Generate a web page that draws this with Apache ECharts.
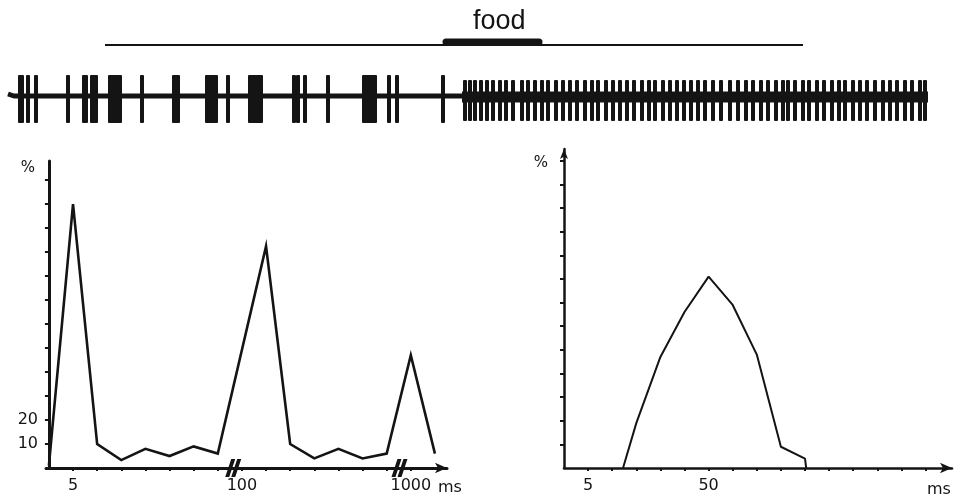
<!DOCTYPE html>
<html>
<head>
<meta charset="utf-8">
<script src="https://cdn.jsdelivr.net/npm/echarts@6/dist/echarts.min.js"></script>
<style>
html, body { margin: 0; padding: 0; background: #fff; }
#chart { width: 961px; height: 501px; }
</style>
</head>
<body>
<div id="chart"></div>
<script>
// 记录时间轴（与记录同一坐标）
const recordLine = [105, 803];
const foodPeriod = [443, 542];

// 左段：爆发放电 [开始, 结束] 与单个放电
const burstSpans = [[18, 24], [26, 30], [82, 88], [90, 98], [108, 122], [172, 180],
  [205, 218], [248, 263], [362, 377]];
const singleSpikes = [36, 68, 142, 228, 294, 298, 305, 328, 389, 397, 443];
// 右段：规则放电
const regularSpikes = [465, 470, 475, 481, 487, 493, 500, 506, 513, 522, 528, 535, 542,
  548, 556, 563, 570, 577, 585, 592, 598, 606, 613, 620, 627, 634, 642, 649, 655, 663,
  670, 677, 684, 691, 698, 705, 713, 721, 730, 738, 746, 753, 761, 768, 776, 783, 788,
  795, 803, 809, 817, 824, 832, 839, 845, 853, 860, 867, 875, 883, 890, 897, 905, 912,
  920, 925];
const burstAmp = [21, -27];
const regularAmp = [16, -25];
const baseLeft = [[8, 2], [14, 0], [120, 0], [300, 0], [462, 0]];
const baseRight = [[462, -1], [928, -1]];

// 左图：间隔直方图
const leftBin = [0, 1, 2, 3, 4, 5, 6, 7, 9, 10, 11, 12, 13, 14, 15, 16];
const leftPct = [1, 110, 10, 3.3, 8, 5, 9, 6, 92.5, 10, 4, 8, 4, 6, 47, 6];
const leftTicks = [1, 2, 3, 4, 5, 6, 7, 8, 9, 10, 11, 12, 13, 14, 15];
const leftLabelBins = [1, 8, 15];
const leftLabelText = ['5', '100', '1000'];
const leftBreaks = [7.64, 14.53];

// 右图：间隔直方图
const rightBin = [2.45, 3, 4, 5, 6, 7, 8, 9, 10, 10.05];
const rightPct = [0, 19, 47, 66, 81, 69, 48, 9, 4, 0];
const rightTicks = [1, 2, 3, 4, 5, 6, 7, 8, 9, 10, 11, 12, 13, 14, 15];
const rightLabelBins = [1, 6];
const rightLabelText = ['5', '50'];

const yTicksLeft = [10, 20, 30, 40, 50, 60, 70, 80, 90, 100, 110, 120];
const yLabelsLeft = [10, 20];
const yTicksRight = [10, 20, 30, 40, 50, 60, 70, 80, 90, 100, 110, 120, 130];

const ink = '#141414';
const font = 'DejaVu Sans';

const spikeData = [];
burstSpans.forEach(s => spikeData.push([s[0], s[1], burstAmp[0], burstAmp[1]]));
singleSpikes.forEach(t => spikeData.push([t, t, burstAmp[0], burstAmp[1]]));
regularSpikes.forEach(t => spikeData.push([t, t, regularAmp[0], regularAmp[1]]));

function pairs(xs, ys) {
  return xs.map((x, i) => [x, ys[i]]);
}

const chart = echarts.init(document.getElementById('chart'));

function hiddenAxis(idx, min, max) {
  return { gridIndex: idx, type: 'value', min: min, max: max, show: false };
}

chart.setOption({
  animation: false,
  title: {
    text: 'food',
    left: 468,
    top: 3,
    textStyle: { fontFamily: 'Liberation Sans', fontSize: 27, fontWeight: 'normal', color: ink }
  },
  grid: [
    { left: 0, right: 0, top: 30, height: 30 },
    { left: 0, right: 0, top: 66, height: 60 },
    { left: 46, width: 401, top: 161, bottom: 33 },
    { left: 564, width: 388, top: 149, bottom: 33 }
  ],
  xAxis: [
    hiddenAxis(0, 0, 961),
    hiddenAxis(1, 0, 961),
    {
      gridIndex: 2, type: 'value', min: -0.12, max: 16.5,
      name: 'ms', nameLocation: 'end', nameGap: -9,
      nameTextStyle: { fontFamily: font, fontSize: 16, color: ink, verticalAlign: 'top', padding: [12, 0, 0, 0] },
      axisLine: { lineStyle: { color: ink, width: 3 }, symbol: ['none', 'arrow'], symbolSize: [8, 12] },
      axisTick: { show: true, inside: false, length: 3, customValues: leftTicks, lineStyle: { color: ink, width: 2 } },
      axisLabel: {
        customValues: leftLabelBins, margin: 10, fontFamily: font, fontSize: 16, color: ink,
        formatter: v => leftLabelText[leftLabelBins.indexOf(v)]
      },
      splitLine: { show: false }
    },
    {
      gridIndex: 3, type: 'value', min: 0, max: 16.1,
      name: 'ms', nameLocation: 'end', nameGap: -25,
      nameTextStyle: { fontFamily: font, fontSize: 16, color: ink, verticalAlign: 'top', padding: [14, 0, 0, 0] },
      axisLine: { lineStyle: { color: ink, width: 2.5 }, symbol: ['none', 'arrow'], symbolSize: [8, 12] },
      axisTick: { show: true, inside: false, length: 3, customValues: rightTicks, lineStyle: { color: ink, width: 2 } },
      axisLabel: {
        customValues: rightLabelBins, margin: 10, fontFamily: font, fontSize: 16, color: ink,
        formatter: v => rightLabelText[rightLabelBins.indexOf(v)]
      },
      splitLine: { show: false }
    }
  ],
  yAxis: [
    hiddenAxis(0, 0, 1),
    hiddenAxis(1, -30, 30),
    {
      gridIndex: 2, type: 'value', min: 0, max: 128,
      name: '%', nameLocation: 'end', nameGap: -15,
      nameTextStyle: { fontFamily: font, fontSize: 15, color: ink, align: 'right', padding: [0, 14, 0, 0] },
      axisLine: { show: true, lineStyle: { color: ink, width: 3 } },
      axisTick: { show: true, inside: false, length: 4, customValues: yTicksLeft, lineStyle: { color: ink, width: 2 } },
      axisLabel: { customValues: yLabelsLeft, margin: 8, fontFamily: font, fontSize: 16, color: ink },
      splitLine: { show: false }
    },
    {
      gridIndex: 3, type: 'value', min: 0, max: 135,
      name: '%', nameLocation: 'end', nameGap: -22,
      nameTextStyle: { fontFamily: font, fontSize: 15, color: ink, align: 'right', padding: [0, 16, 0, 0] },
      axisLine: { show: true, lineStyle: { color: ink, width: 2.5 }, symbol: ['none', 'arrow'], symbolSize: [6, 10] },
      axisTick: { show: true, inside: false, length: 4, customValues: yTicksRight, lineStyle: { color: ink, width: 2 } },
      axisLabel: { show: false },
      splitLine: { show: false }
    }
  ],
  series: [
    {
      type: 'line', xAxisIndex: 0, yAxisIndex: 0, symbol: 'none',
      data: [[recordLine[0], 0.5], [recordLine[1], 0.5]],
      lineStyle: { color: ink, width: 2 }
    },
    {
      type: 'line', xAxisIndex: 0, yAxisIndex: 0, symbol: 'none',
      data: [[foodPeriod[0] + 3, 0.6], [foodPeriod[1] - 3, 0.6]],
      lineStyle: { color: ink, width: 7, cap: 'round' }
    },
    {
      type: 'line', xAxisIndex: 1, yAxisIndex: 1, symbol: 'none',
      data: baseLeft, lineStyle: { color: ink, width: 5 }
    },
    {
      type: 'line', xAxisIndex: 1, yAxisIndex: 1, symbol: 'none',
      data: baseRight, lineStyle: { color: ink, width: 11 }
    },
    {
      type: 'custom', xAxisIndex: 1, yAxisIndex: 1,
      data: spikeData,
      renderItem: function (params, api) {
        const p0 = api.coord([api.value(0), api.value(2)]);
        const p1 = api.coord([api.value(1), api.value(3)]);
        const w = Math.max(p1[0] - p0[0], 4);
        const cx = (p0[0] + p1[0]) / 2;
        return {
          type: 'rect',
          shape: { x: cx - w / 2, y: p0[1], width: w, height: p1[1] - p0[1], r: 1 },
          style: { fill: ink }
        };
      }
    },
    {
      type: 'line', xAxisIndex: 2, yAxisIndex: 2, symbol: 'none',
      data: pairs(leftBin, leftPct),
      lineStyle: { color: ink, width: 2.6, join: 'miter' }
    },
    {
      type: 'scatter', xAxisIndex: 2, yAxisIndex: 2, z: 5,
      data: leftBreaks.map(b => [b, 0]),
      symbol: 'path://M0,16L4,16L10,0L6,0Z M6,16L10,16L16,0L12,0Z',
      symbolSize: [16, 18],
      itemStyle: { color: ink, opacity: 1 },
      silent: true
    },
    {
      type: 'line', xAxisIndex: 3, yAxisIndex: 3, symbol: 'none',
      data: pairs(rightBin, rightPct),
      lineStyle: { color: ink, width: 2 }
    }
  ]
});
</script>
</body>
</html>
